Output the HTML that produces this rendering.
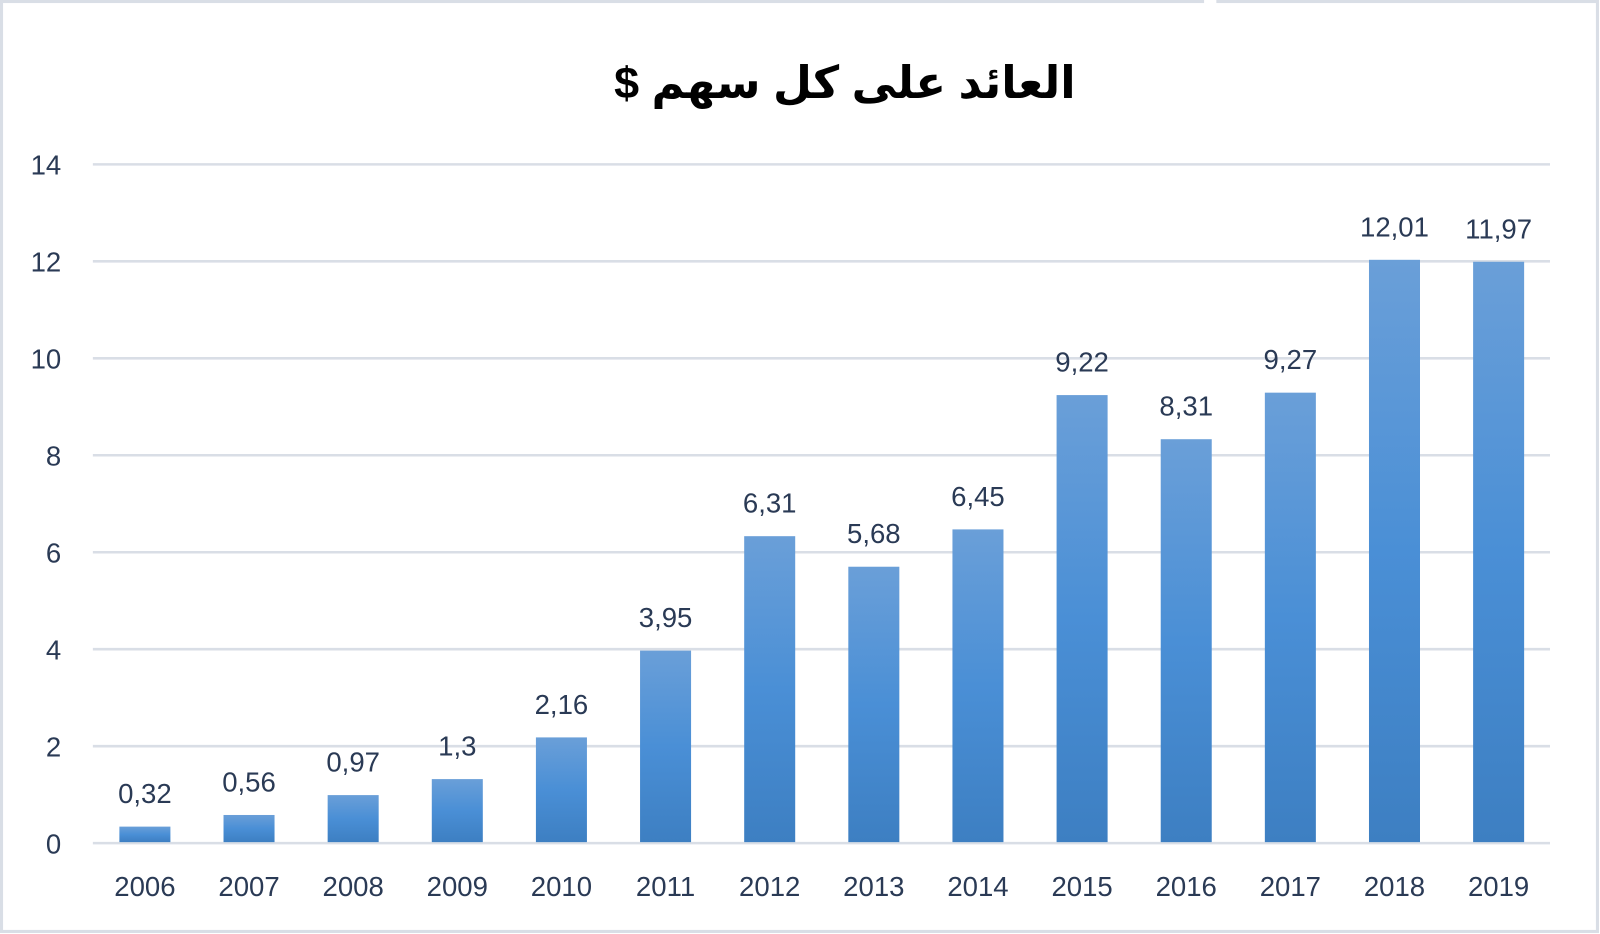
<!DOCTYPE html>
<html><head><meta charset="utf-8"><style>
html,body{margin:0;padding:0;background:#fff;}
svg{display:block;}
</style></head><body>
<svg width="1600" height="934" viewBox="0 0 1568 915" preserveAspectRatio="none" xmlns="http://www.w3.org/2000/svg">
<defs>
<linearGradient id="g" x1="0" y1="0" x2="0" y2="1">
<stop offset="0" stop-color="#6a9fd8"/>
<stop offset="0.5" stop-color="#4a8fd6"/>
<stop offset="1" stop-color="#3d7fc2"/>
</linearGradient>
</defs>
<rect x="1.5" y="1.5" width="1564" height="911" fill="#fff" stroke="#d9dee6" stroke-width="3"/>
<rect x="1180" y="0" width="12" height="4" fill="#fff"/>
<text x="828" y="96" text-anchor="middle" font-family="'Liberation Sans','DejaVu Sans',sans-serif" font-weight="bold" font-size="44" fill="#000" direction="rtl">العائد على كل سهم  $</text>
<g stroke="#d9dee6" stroke-width="2.5">
<line x1="91" y1="161" x2="1519" y2="161"/>
<line x1="91" y1="256" x2="1519" y2="256"/>
<line x1="91" y1="351" x2="1519" y2="351"/>
<line x1="91" y1="446" x2="1519" y2="446"/>
<line x1="91" y1="541" x2="1519" y2="541"/>
<line x1="91" y1="636" x2="1519" y2="636"/>
<line x1="91" y1="731" x2="1519" y2="731"/>
<line x1="91" y1="826" x2="1519" y2="826"/>
</g>
<g font-family="'Liberation Sans',sans-serif" font-size="27" fill="#2a3a55" text-anchor="end">
<text x="60" y="171">14</text><text x="60" y="266">12</text><text x="60" y="361">10</text>
<text x="60" y="456">8</text><text x="60" y="551">6</text><text x="60" y="646">4</text>
<text x="60" y="741">2</text><text x="60" y="836">0</text>
</g>
<g id="bars" fill="url(#g)"></g>
<g id="labels" font-family="'Liberation Sans',sans-serif" font-size="27" fill="#2a3a55" text-anchor="middle"></g>
<script>
var vals=[0.32,0.56,0.97,1.3,2.16,3.95,6.31,5.68,6.45,9.22,8.31,9.27,12.01,11.97];
var b=document.getElementById('bars'),l=document.getElementById('labels'),ns='http://www.w3.org/2000/svg';
vals.forEach(function(v,i){
 var cx=142+i*102.05, h=v*47.5, y=825-h;
 var r=document.createElementNS(ns,'rect');
 r.setAttribute('x',cx-25);r.setAttribute('y',y);r.setAttribute('width',50);r.setAttribute('height',h);
 b.appendChild(r);
 var t=document.createElementNS(ns,'text');t.setAttribute('x',cx);t.setAttribute('y',y-23);
 t.textContent=String(v).replace('.',',');l.appendChild(t);
 var t2=document.createElementNS(ns,'text');t2.setAttribute('x',cx);t2.setAttribute('y',878);
 t2.textContent=2006+i;l.appendChild(t2);
});
</script>
</svg>
</body></html>
